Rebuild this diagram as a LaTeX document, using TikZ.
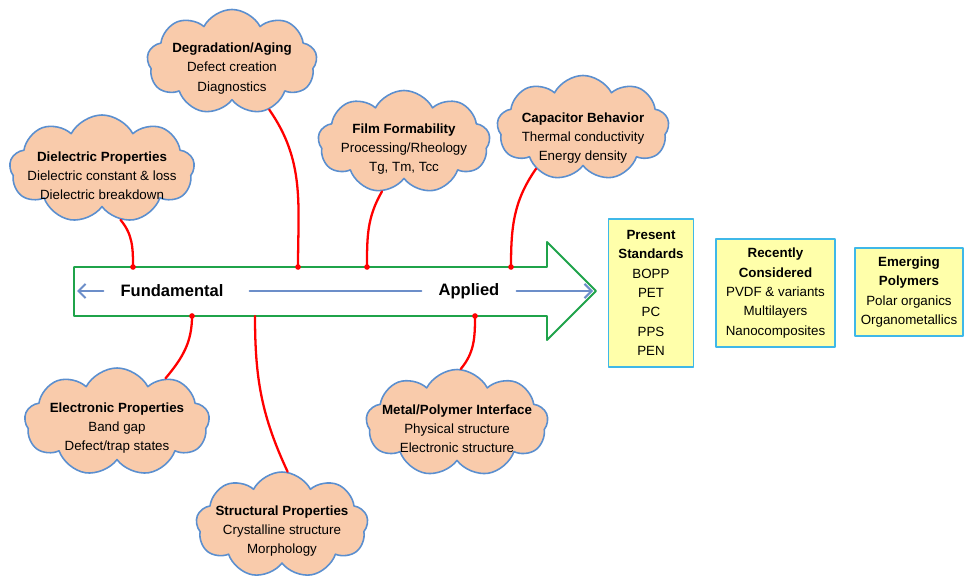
\documentclass[tikz,border=0pt]{standalone}
\usepackage{fontspec}
\setmainfont{Liberation Sans}
\usetikzlibrary{shapes.symbols}
\usetikzlibrary{arrows.meta, calc}
\definecolor{puffblue}{HTML}{5B8FCF}
\definecolor{pufffill}{HTML}{F9CBAB}
\definecolor{spinegreen}{HTML}{1FA34A}
\definecolor{axisblue}{HTML}{6C8EC9}
\definecolor{boxfill}{HTML}{FFFFAA}
\definecolor{boxedge}{HTML}{3FB8E8}

\begin{document}
\begin{tikzpicture}[>=Latex, line cap=round, line join=round,
	font=\fontsize{7.6}{10.9}\selectfont,
	puff/.style={cloud, cloud puffs=9, cloud puff arc=125, cloud ignores aspect,
		draw=puffblue, fill=pufffill, line width=0.9pt, inner sep=0pt},
	pufftext/.style={align=center, inner sep=1pt},
	rib/.style={red, line width=1.3pt},
	polybox/.style={draw=boxedge, fill=boxfill, line width=1pt, align=center,
		inner sep=2pt, font=\fontsize{7.6}{11}\selectfont},
	axislabel/.style={font=\fontsize{9.4}{11}\selectfont\bfseries,
		inner xsep=0.34cm, inner ysep=0pt},
	axisline/.style={axisblue, line width=1.2pt}]
	
	\useasboundingbox (0,0) rectangle (19.28,11.54);
	
	% ===============================
	% ======== UPPER CLOUDS =========
	% ===============================
	\node[puff, minimum width=3.40cm, minimum height=2.10cm] (degr) at (4.64,10.30) {};
	\node[pufftext] (degr-t) at ([yshift=-0.13cm]degr.center)
	{\textbf{Degradation/Aging}\\Defect creation\\Diagnostics};
	
	\node[puff, minimum width=3.70cm, minimum height=2.16cm] (diel) at (2.04,8.16) {};
	\node[pufftext] (diel-t) at ([yshift=-0.14cm]diel.center)
	{\textbf{Dielectric Properties}\\Dielectric constant \& loss\\Dielectric breakdown};
	
	\node[puff, minimum width=3.44cm, minimum height=2.06cm] (film) at (8.08,8.70) {};
	\node[pufftext] (film-t) at ([yshift=-0.14cm]film.center)
	{\textbf{Film Formability}\\Processing/Rheology\\Tg, Tm, Tcc};
	
	\node[puff, minimum width=3.44cm, minimum height=2.10cm] (capa) at (11.66,8.98) {};
	\node[pufftext] (capa-t) at ([yshift=-0.2cm]capa.center)
	{\textbf{Capacitor Behavior}\\Thermal conductivity\\Energy density};
	
	% ===============================
	% ======== LOWER CLOUDS =========
	% ===============================
	\node[puff, minimum width=3.70cm, minimum height=2.16cm] (elec) at (2.34,3.10) {};
	\node[pufftext] (elec-t) at ([yshift=-0.12cm]elec.center)
	{\textbf{Electronic Properties}\\Band gap\\Defect/trap states};
	
	\node[puff, minimum width=3.44cm, minimum height=2.12cm] (stru) at (5.64,1.04) {};
	\node[pufftext] (stru-t) at ([yshift=-0.12cm]stru.center)
	{\textbf{Structural Properties}\\Crystalline structure\\Morphology};
	
	\node[puff, minimum width=3.64cm, minimum height=2.14cm] (meta) at (9.14,3.08) {};
	\node[pufftext] (meta-t) at ([yshift=-0.12cm]meta.center)
	{\textbf{Metal/Polymer Interface}\\Physical structure\\Electronic structure};
	
	% ---- big green arrow (spine) ----
	\draw[spinegreen, line width=1.1pt, fill=white]
	(1.48,6.20) -- (10.94,6.20) -- (10.94,6.70) -- (11.92,5.72)
	-- (10.94,4.74) -- (10.94,5.22) -- (1.48,5.22) -- cycle;
	
	% ---- blue axis inside the spine ----
	\coordinate (lend) at (1.54,5.72);
	\coordinate (rend) at (11.86,5.72);
	\node[axislabel] (fund) at (3.44,5.72) {Fundamental};
	\node[axislabel] (appl) at (9.38,5.72) {Applied};
	\draw[axisline, -{Straight Barb[length=4pt,width=8pt]}] (fund) -- (lend);
	\draw[axisline, shorten <=0.18cm] (fund) -- (appl);
	\draw[axisline, -{Straight Barb[length=4pt,width=8pt]}] (appl) -- (rend);
	
	% ---- attachment points on the spine ----
	\coordinate (p-diel) at (2.66,6.20);
	\coordinate (p-degr) at (5.96,6.20);
	\coordinate (p-film) at (7.34,6.20);
	\coordinate (p-capa) at (10.22,6.20);
	\coordinate (p-elec) at (3.84,5.22);
	\coordinate (p-stru) at (5.10,5.22);
	\coordinate (p-meta) at (9.50,5.22);
	
	% ---- red ribs ----
	\draw[rib] (diel.-70) to[out=-50, in=90] (p-diel);
	\draw[rib] (degr.-52) to[out=-55, in=90] (p-degr);
	\draw[rib] (film.-114) to[out=-120, in=90] (p-film);
	\draw[rib] (capa.-139) to[out=-125, in=90] (p-capa);
	\draw[rib] (p-elec) to[out=-90, in=50] (elec.42);
	\draw[rib] (p-stru) to[out=-90, in=115] (stru.84);
	\draw[rib] (p-meta) to[out=-90, in=50] (meta.86);
	\foreach \P in {p-diel,p-degr,p-film,p-capa,p-elec,p-meta}{
		\fill[red] (\P) circle (1.6pt);
	}
	
	% ---- polymer classes ----
	\node[polybox, minimum width=1.70cm, minimum height=2.96cm] (pres) at (13.02,5.68)
	{\textbf{Present}\\\textbf{Standards}\\BOPP\\PET\\PC\\PPS\\PEN};
	\node[polybox, minimum width=2.38cm, minimum height=2.16cm] (rece) at (15.51,5.68)
	{\textbf{Recently}\\\textbf{Considered}\\PVDF \& variants\\Multilayers\\Nanocomposites};
	\node[polybox, minimum width=2.16cm, minimum height=1.76cm] (emer) at (18.18,5.70)
	{\textbf{Emerging}\\\textbf{Polymers}\\Polar organics\\Organometallics};
	
\end{tikzpicture}
\end{document}
